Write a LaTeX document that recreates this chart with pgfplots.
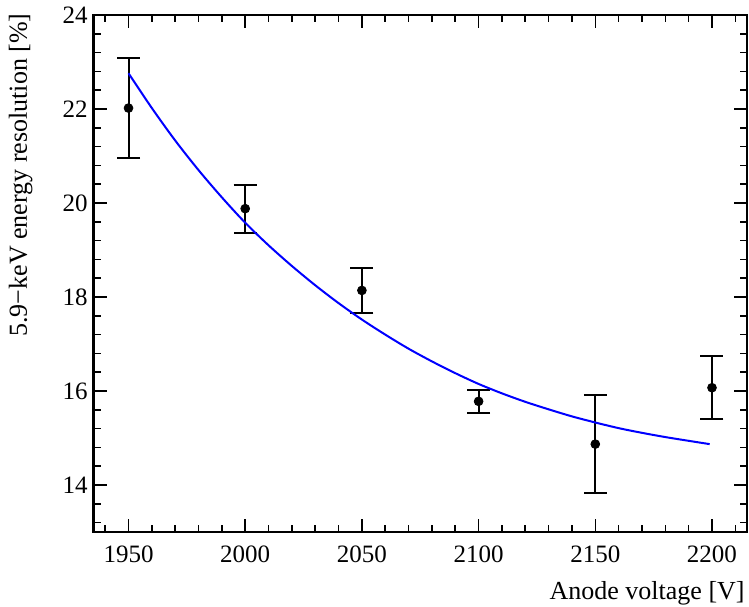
\documentclass[border=0pt]{standalone}
\usepackage{fontspec}
\setmainfont{Liberation Serif}
\usepackage{pgfplots}
\pgfplotsset{compat=1.18}

\begin{document}
\begin{tikzpicture}
\begin{axis}[
name=ax,
scale only axis,
width=326.75pt, height=258.5pt,
xmin=1935, xmax=2215,
ymin=13, ymax=24,
xtick={1950,2000,...,2200},
ytick={14,16,...,24},
minor xtick={1940,1960,1970,1980,1990,2010,2020,2030,2040,2060,2070,2080,2090,2110,2120,2130,2140,2160,2170,2180,2190,2210},
minor ytick={13.2,13.6,14.4,14.8,15.2,15.6,16.4,16.8,17.2,17.6,18.4,18.8,19.2,19.6,20.4,20.8,21.2,21.6,22.4,22.8,23.2,23.6},
tick align=inside,
tick pos=both,
major tick length=6.5pt,
minor tick length=3.5pt,
every tick/.style={black, line width=0.8pt},
axis line style={line width=1.1pt},
/pgf/number format/assume math mode=true,
/pgf/number format/1000 sep={},
every tick label/.append style={inner sep=0pt, font=\fontsize{12.5}{15}\selectfont},
xticklabel style={yshift=-6.5pt},
yticklabel style={xshift=-2.75pt},
xlabel={Anode voltage [V]},
ylabel={5.9−keV energy resolution [\%]},
label style={font=\fontsize{13}{15}\selectfont, inner sep=0pt},
xlabel style={at={(axis description cs:0.997,-0.0948)}, anchor=north east},
ylabel style={at={(axis description cs:-0.0926,1.004)}, anchor=south east},
]
% measured points
\addplot[only marks, black, mark=*, mark size=2.2pt,
  error bars/.cd, y dir=both, y explicit,
  error bar style={line width=1pt},
  error mark options={rotate=90, mark size=5.75pt, line width=1pt}]
coordinates {
(1950,22.02) +- (0,1.06)
(2000,19.88) +- (0,0.51)
(2050,18.14) +- (0,0.47)
(2100,15.78) +- (0,0.25)
(2150,14.87) +- (0,1.04)
(2200,16.07) +- (0,0.67)
};
% fit curve
\addplot[blue, line width=1pt, no marks, smooth] coordinates {
(1950,22.76) (1960,22.02) (1970,21.33) (1980,20.70) (1990,20.12)
(2000,19.58) (2010,19.10) (2020,18.66) (2030,18.25) (2040,17.87)
(2050,17.52) (2060,17.20) (2070,16.90) (2080,16.63) (2090,16.38)
(2100,16.15) (2110,15.95) (2120,15.77) (2130,15.61) (2140,15.46)
(2150,15.33) (2160,15.21) (2170,15.11) (2180,15.02) (2190,14.94)
(2199,14.87)
};
\end{axis}
\pgfresetboundingbox
\path ([xshift=-46.75pt,yshift=-37pt]ax.south west) rectangle ([xshift=1pt,yshift=7.5pt]ax.north east);
\end{tikzpicture}
\end{document}
